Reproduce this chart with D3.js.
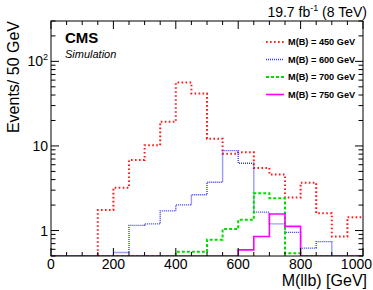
<!DOCTYPE html>
<html>
<head>
<meta charset="utf-8">
<script src="https://cdn.jsdelivr.net/npm/d3@7"></script>
<style>
  html, body { margin: 0; padding: 0; background: #fff; }
  svg { display: block; font-family: "Liberation Sans", Arial, Helvetica, sans-serif; }
</style>
</head>
<body>
<svg id="chart" width="373" height="290"></svg>
<script>
// ---- data (bin lower edges in GeV, 50 GeV bins) ----
const binStarts = [0, 50, 100, 150, 200, 250, 300, 350, 400, 450, 500, 550, 600, 650, 700, 750, 800, 850, 900, 950];
const binWidth = 50;
const seriesNames = ["M(B) = 450 GeV", "M(B) = 600 GeV", "M(B) = 700 GeV", "M(B) = 750 GeV"];
const mB450 = [0, 0, 0, 1.75, 3.21, 6.82, 10.2, 19.3, 56.2, 41.7, 12.2, 8.1, 8.4, 5.5, 4.6, 2.45, 3.68, 1.60, 0.85, 1.44];
const mB600 = [0, 0, 0, 0, 0.55, 1.15, 1.2, 1.71, 2.01, 2.65, 3.72, 8.8, 6.24, 1.65, 1.2, 0.95, 0.62, 0.74, 0, 0];
const mB700 = [0, 0, 0, 0, 0, 0, 0, 0, 0.56, 0.56, 0.78, 1.04, 1.34, 2.76, 2.41, 0.54, 0, 0, 0, 0];
const mB750 = [0, 0, 0, 0, 0, 0, 0, 0, 0, 0, 0, 0, 0.59, 0.85, 1.57, 1.12, 0, 0, 0, 0];
const xTicks = [0, 200, 400, 600, 800, 1000];
const yTicks = [1, 10, 100];
const yTickLabels = ["1", "10", "10|2"];

const svg = d3.select("#chart");
const L = 51, R = 363, T = 21, B = 256;
const x = d3.scaleLinear().domain([0, 1000]).range([L, R]);
const y = d3.scaleLog().domain([0.5, 300]).range([B, T]);

const styles = [
  {color: "#ff1a1a", width: 2, dash: "1.6,2.4"},
  {color: "#3a3ae8", width: 1.4, dash: "1,1"},
  {color: "#00dd00", width: 2, dash: "3,2"},
  {color: "#ff00ff", width: 1.6, dash: null}
];

svg.append("defs").append("clipPath").attr("id", "clip")
  .append("rect").attr("x", L).attr("y", T).attr("width", R - L).attr("height", B - T);

const all = [mB450, mB600, mB700, mB750];
const line = d3.line()
  .x(d => x(d[0]))
  .y(d => y(Math.max(d[1], 0.5)))
  .curve(d3.curveStepAfter);

all.forEach((vals, i) => {
  const pts = binStarts.map((b, j) => [b, vals[j]]);
  pts.push([binStarts[binStarts.length - 1] + binWidth, vals[vals.length - 1]]);
  const s = styles[i];
  svg.append("path")
    .attr("clip-path", "url(#clip)")
    .attr("d", line(pts))
    .attr("fill", "none")
    .attr("stroke", s.color)
    .attr("stroke-width", s.width)
    .attr("stroke-dasharray", s.dash);
});

// frame
svg.append("rect").attr("x", L).attr("y", T).attr("width", R - L).attr("height", B - T)
  .attr("fill", "none").attr("stroke", "#000").attr("stroke-width", 1);

// x ticks (inward, bottom and top)
const xMinor = d3.range(0, 1001, 50);
const tg = svg.append("g").attr("stroke", "#000").attr("stroke-width", 1);
xMinor.forEach(v => {
  const len = (v % 200 === 0) ? 8 : 4;
  tg.append("line").attr("x1", x(v)).attr("x2", x(v)).attr("y1", B).attr("y2", B - len);
  tg.append("line").attr("x1", x(v)).attr("x2", x(v)).attr("y1", T).attr("y2", T + len);
});
// y ticks (log)
const yMinor = [];
[0.1, 1, 10, 100].forEach(d => { for (let k = 1; k <= 9; k++) { const v = k * d; if (v >= 0.5 && v <= 300) yMinor.push(v); } });
yMinor.forEach(v => {
  const major = yTicks.some(t => Math.abs(t - v) < 1e-9);
  const len = major ? 8 : 4.5;
  tg.append("line").attr("x1", L).attr("x2", L + len).attr("y1", y(v)).attr("y2", y(v));
  tg.append("line").attr("x1", R).attr("x2", R - len).attr("y1", y(v)).attr("y2", y(v));
});

// x tick labels (last one kept inside the window)
xTicks.forEach((v, i) => {
  const last = i === xTicks.length - 1;
  svg.append("text").attr("x", last ? 372 : x(v)).attr("y", 269)
    .attr("text-anchor", last ? "end" : "middle")
    .attr("font-size", 14).attr("fill", "#000").text(v);
});
// y tick labels
yTicks.forEach((v, i) => {
  const parts = yTickLabels[i].split("|");
  const t = svg.append("text").attr("x", 48).attr("y", y(v) + 5).attr("text-anchor", "end")
    .attr("font-size", 14).attr("fill", "#000");
  t.append("tspan").text(parts[0]);
  if (parts[1]) t.append("tspan").attr("font-size", 9).attr("dy", -6).text(parts[1]);
});

// axis titles
svg.append("text").attr("x", 367).attr("y", 286).attr("text-anchor", "end")
  .attr("font-size", 16).attr("fill", "#000").text("M(llb) [GeV]");
svg.append("text").attr("transform", "translate(19,21) rotate(-90)").attr("text-anchor", "end")
  .attr("font-size", 16).attr("fill", "#000").text("Events/ 50 GeV");

// lumi label
const lumi = svg.append("text").attr("x", 367).attr("y", 17).attr("text-anchor", "end")
  .attr("font-size", 14).attr("fill", "#000");
lumi.append("tspan").text("19.7 fb");
lumi.append("tspan").attr("font-size", 9).attr("dy", -6).text("-1");
lumi.append("tspan").attr("dy", 6).text(" (8 TeV)");

// CMS labels
svg.append("text").attr("x", 65).attr("y", 43).attr("font-size", 15).attr("font-weight", "bold")
  .attr("fill", "#000").text("CMS");
svg.append("text").attr("x", 65).attr("y", 58).attr("font-size", 11).attr("font-style", "italic")
  .attr("fill", "#000").text("Simulation");

// legend
seriesNames.forEach((name, i) => {
  const cy = 42 + i * 17.5;
  const s = styles[i];
  svg.append("line").attr("x1", 266).attr("x2", 284).attr("y1", cy).attr("y2", cy)
    .attr("stroke", s.color).attr("stroke-width", s.width).attr("stroke-dasharray", s.dash);
  svg.append("text").attr("x", 288).attr("y", cy + 3.3).attr("font-size", 9.2).attr("font-weight", "bold")
    .attr("fill", "#000").text(name);
});
</script>
</body>
</html>
